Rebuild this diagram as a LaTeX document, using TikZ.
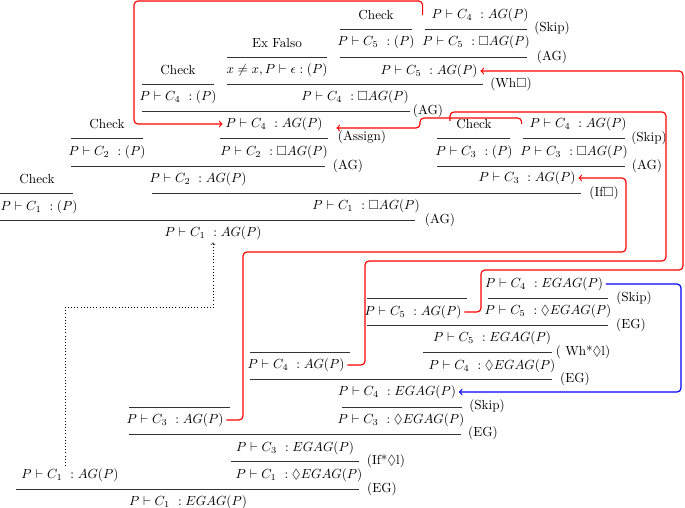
\documentclass[tikz,border=0pt]{standalone}
\usepackage{amsmath,amssymb}
\usepackage{tikz}
\usetikzlibrary{calc,positioning,arrows}
\newcommand{\jdg}[2]{$P \vdash C_{#1}\ : #2$}

\begin{document}
\begin{tikzpicture}[x=0.76pt, y=-0.76pt, j/.style={inner sep = 2pt}, rl/.style={inner sep = 1pt},
  inf/.style={line width=.5pt, black!80}, back/.style={red, line width=.9pt, rounded corners=3pt},
  fwd/.style={blue, line width=.9pt, rounded corners=3pt}]
\useasboundingbox (0,0) rectangle (685,508);
% AG proof
\node[j] (chkA) at (376,15) {Check};
\node[j] (t4) at (480,15) {\jdg{4}{AG(P)}};
\node[j] (t5p) at (376,42) {\jdg{5}{(P)}};
\node[j] (t5b) at (476,42) {\jdg{5}{\Box AG(P)}};
\node[j] (exf) at (277,43) {Ex Falso};
\node[j] (chkB) at (178,70) {Check};
\node[j] (xne) at (277,70) {$x \neq x, P \vdash \epsilon : (P)$};
\node[j] (c5a) at (429,71) {\jdg{5}{AG(P)}};
\node[j] (c4p) at (178,97) {\jdg{4}{(P)}};
\node[j] (c4b) at (355,97) {\jdg{4}{\Box AG(P)}};
\node[j] (chkC) at (107,124) {Check};
\node[j] (a4) at (274,124) {\jdg{4}{AG(P)}};
\node[j] (c2p) at (107,152) {\jdg{2}{(P)}};
\node[j] (c2b) at (274,152) {\jdg{2}{\Box AG(P)}};
\node[j] (chkD) at (37,179) {Check};
\node[j] (c2a) at (198,179) {\jdg{2}{AG(P)}};
\node[j] (chkE) at (474,124) {Check};
\node[j] (r4) at (578,124) {\jdg{4}{AG(P)}};
\node[j] (c3p) at (474,152) {\jdg{3}{(P)}};
\node[j] (c3b) at (574,152) {\jdg{3}{\Box AG(P)}};
\node[j] (c3a) at (527,178) {\jdg{3}{AG(P)}};
\node[j] (c1p) at (39,207) {\jdg{1}{(P)}};
\node[j] (c1b) at (366,206) {\jdg{1}{\Box AG(P)}};
\node[j] (c1a) at (213,233) {\jdg{1}{AG(P)}};
\node[rl] (skipA) at (552,28) {(Skip)};
\node[rl] (agA) at (552,57) {(AG)};
\node[rl] (whA) at (511,84) {(Wh$\Box$)};
\node[rl] (agB) at (428,111) {(AG)};
\node[rl] (asg) at (362,137) {(Assign)};
\node[rl] (agC) at (348,166) {(AG)};
\node[rl] (skipB) at (649,138) {(Skip)};
\node[rl] (agD) at (647,166) {(AG)};
\node[rl] (ifb) at (604,193) {(If$\Box$)};
\node[rl] (agE) at (440,220) {(AG)};
% EG proof
\node[j] (e4g) at (544,284) {\jdg{4}{EGAG(P)}};
\node[j] (e5a) at (413,312) {\jdg{5}{AG(P)}};
\node[j] (e5d) at (548,311) {\jdg{5}{\Diamond EGAG(P)}};
\node[j] (e5g) at (492,338) {\jdg{5}{EGAG(P)}};
\node[j] (e4a) at (296,365) {\jdg{4}{AG(P)}};
\node[j] (e4d) at (492,366) {\jdg{4}{\Diamond EGAG(P)}};
\node[j] (m4g) at (397,392) {\jdg{4}{EGAG(P)}};
\node[j] (e3a) at (175,420) {\jdg{3}{AG(P)}};
\node[j] (e3d) at (401,420) {\jdg{3}{\Diamond EGAG(P)}};
\node[j] (e3g) at (295,448) {\jdg{3}{EGAG(P)}};
\node[j] (b1a) at (70,475) {\jdg{1}{AG(P)}};
\node[j] (e1d) at (299,475) {\jdg{1}{\Diamond EGAG(P)}};
\node[j] (e1g) at (188,502) {\jdg{1}{EGAG(P)}};
\node[rl] (skipC) at (634,298) {(Skip)};
\node[rl] (egA) at (631,325) {(EG)};
\node[rl] (wh2) at (583,352) {( Wh*$\Diamond$l)};
\node[rl] (egB) at (575,379) {(EG)};
\node[rl] (skipD) at (487,406) {(Skip)};
\node[rl] (egC) at (483,433) {(EG)};
\node[rl] (ifd) at (386,461) {(If*$\Diamond$l)};
\node[rl] (egD) at (382,489) {(EG)};
% inference lines
\foreach \xa/\xb/\y in {340/412/29, 425/527/29, 227/327/57, 340/527/57, 142/214/84, 227/483/84,
  142/410/111, 71/143/138, 220/328/138, 437/510/138, 523/625/138, 71/325/166, 437/625/166,
  0/73/193, 152/581/193, 0/415/220,
  367/467/298, 488/608/298, 367/608/325, 250/350/352, 423/552/352, 250/552/379,
  129/230/407, 342/462/407, 129/461/434, 231/359/461, 16/359/489}{\draw[inf] (\xa,\y) -- (\xb,\y);}
% back edges
\coordinate (astart) at ($(t4.west)+(-6,0)$);
\coordinate (dstart) at (450,121);
\draw[back,->] (astart) |- (134,1) |- (a4.west);
\draw[back,->] ($(r4.west)+(-5,0)$) |- (420,118) |- ($(a4.east)+(11,4)$);
\draw[back,->] (e5a.east) -| (481,270) -| (683,150) |- (c5a.east);
\draw[back] (e4a.east) -| (365,261) -| (666,112) -| (dstart);
\draw[back,->] (e3a.east) -| (243,252) -| (626,215) |- (c3a.east);
\draw[fwd,->] (e4g.east) -| (681,338) |- (m4g.east);
\draw[dotted,->] ($(b1a.north)+(-5,0)$) |- ($(c1a.south)+(0,65)$) -- (c1a.south);
\end{tikzpicture}
\end{document}
